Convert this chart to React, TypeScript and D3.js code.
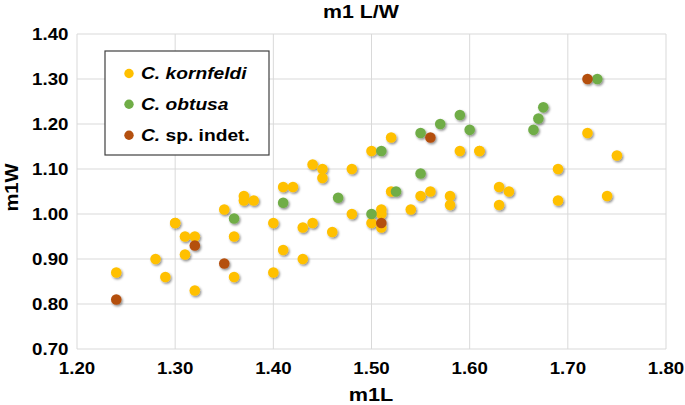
import React from "react";
import * as d3 from "d3";

const kornX = [1.24,1.28,1.29,1.30,1.30,1.31,1.32,1.31,1.32,1.35,1.36,1.36,1.37,1.37,1.38,1.40,1.40,1.41,1.42,1.41,1.43,1.44,1.43,1.44,1.45,1.45,1.46,1.48,1.48,1.50,1.50,1.51,1.51,1.51,1.52,1.52,1.54,1.55,1.56,1.58,1.58,1.59,1.61,1.61,1.63,1.64,1.63,1.69,1.69,1.72,1.74,1.75];
const kornY = [0.87,0.90,0.86,0.98,0.98,0.95,0.95,0.91,0.83,1.01,0.95,0.86,1.04,1.03,1.03,0.98,0.87,1.06,1.06,0.92,0.97,0.98,0.90,1.11,1.10,1.08,0.96,1.10,1.00,1.14,0.98,1.01,1.00,0.97,1.05,1.17,1.01,1.04,1.05,1.04,1.02,1.14,1.14,1.14,1.06,1.05,1.02,1.10,1.03,1.18,1.04,1.13];
const obtX = [1.36,1.41,1.466,1.50,1.51,1.525,1.55,1.55,1.57,1.59,1.60,1.665,1.67,1.675,1.73];
const obtY = [0.99,1.025,1.036,1.00,1.14,1.05,1.09,1.18,1.20,1.22,1.187,1.187,1.212,1.237,1.30];
const spX = [1.24,1.32,1.35,1.51,1.56,1.72];
const spY = [0.81,0.93,0.89,0.98,1.17,1.30];

const xTicks = [1.2,1.3,1.4,1.5,1.6,1.7,1.8];
const yTicks = [0.7,0.8,0.9,1.0,1.1,1.2,1.3,1.4];

const seriesNames = ["kornfeldi", "obtusa", "sp. indet."];
const colors = ["#FFC000", "#70AD47", "#B4500F"];

function T(props: { x: number; y: number; sx?: number; rot?: number; anchor?: string; fs: number; children: React.ReactNode }) {
  const { x, y, sx = 1, rot = 0, anchor = "start", fs, children } = props;
  return (
    <text
      transform={`translate(${x},${y}) rotate(${rot}) scale(${sx},1)`}
      textAnchor={anchor}
      fontSize={fs}
      fontWeight="bold"
      fill="#000"
    >
      {children}
    </text>
  );
}

export default function App() {
  const W = 685, H = 405;
  const x = d3.scaleLinear().domain([1.2, 1.8]).range([77, 666]);
  const y = d3.scaleLinear().domain([0.7, 1.4]).range([349, 34]);
  const series = [
    { xs: kornX, ys: kornY, c: colors[0] },
    { xs: obtX, ys: obtY, c: colors[1] },
    { xs: spX, ys: spY, c: colors[2] },
  ];
  const font = "'Liberation Sans', Arial, sans-serif";
  return (
    <svg width={W} height={H} style={{ position: "absolute", left: 0, top: 0, background: "#fff" }} fontFamily={font}>
      <defs>
        <filter id="sh" x="-50%" y="-50%" width="200%" height="200%">
          <feDropShadow dx="1.2" dy="1.5" stdDeviation="0.9" floodColor="#000" floodOpacity="0.45" />
        </filter>
      </defs>
      <rect width={W} height={H} fill="#fff" />
      {xTicks.map((t) => (
        <line key={"gx" + t} x1={x(t)} x2={x(t)} y1={y(1.4)} y2={y(0.7)} stroke="#D9D9D9" strokeWidth={1} />
      ))}
      {yTicks.map((t) => (
        <line key={"gy" + t} x1={x(1.2)} x2={x(1.8)} y1={y(t)} y2={y(t)} stroke="#D9D9D9" strokeWidth={1} />
      ))}
      {yTicks.map((t) => (
        <T key={"ty" + t} x={68.5} y={y(t) + 6.2} anchor="end" fs={17} sx={1.1}>
          {d3.format(".2f")(t)}
        </T>
      ))}
      {xTicks.map((t) => (
        <T key={"tx" + t} x={x(t)} y={374.3} anchor="middle" fs={17} sx={1.1}>
          {d3.format(".2f")(t)}
        </T>
      ))}
      <T x={361} y={17.5} anchor="middle" fs={17.5} sx={1.22}>m1 L/W</T>
      <T x={371} y={400.5} anchor="middle" fs={19} sx={1.14}>m1L</T>
      <T x={18.3} y={187.5} anchor="middle" fs={19} sx={1.06} rot={-90}>m1W</T>
      <g filter="url(#sh)">
        {series.map((s, si) =>
          s.xs.map((v, i) => (
            <circle key={si + "-" + i} cx={x(v)} cy={y(s.ys[i])} r={5.3} fill={s.c} />
          ))
        )}
      </g>
      <rect x={105} y={51} width={164} height={104} fill="#fff" stroke="#404040" strokeWidth={1.2} />
      {seriesNames.map((n, i) => {
        const by = [79.3, 110, 141][i];
        return (
          <g key={n}>
            <circle cx={129} cy={by - 5.8} r={4.7} fill={colors[i]} />
            <T x={141} y={by} fs={17} sx={1.13}>
              <tspan fontStyle="italic">C.</tspan>
              {i < 2 ? <tspan fontStyle="italic"> {n}</tspan> : <tspan> {n}</tspan>}
            </T>
          </g>
        );
      })}
    </svg>
  );
}
